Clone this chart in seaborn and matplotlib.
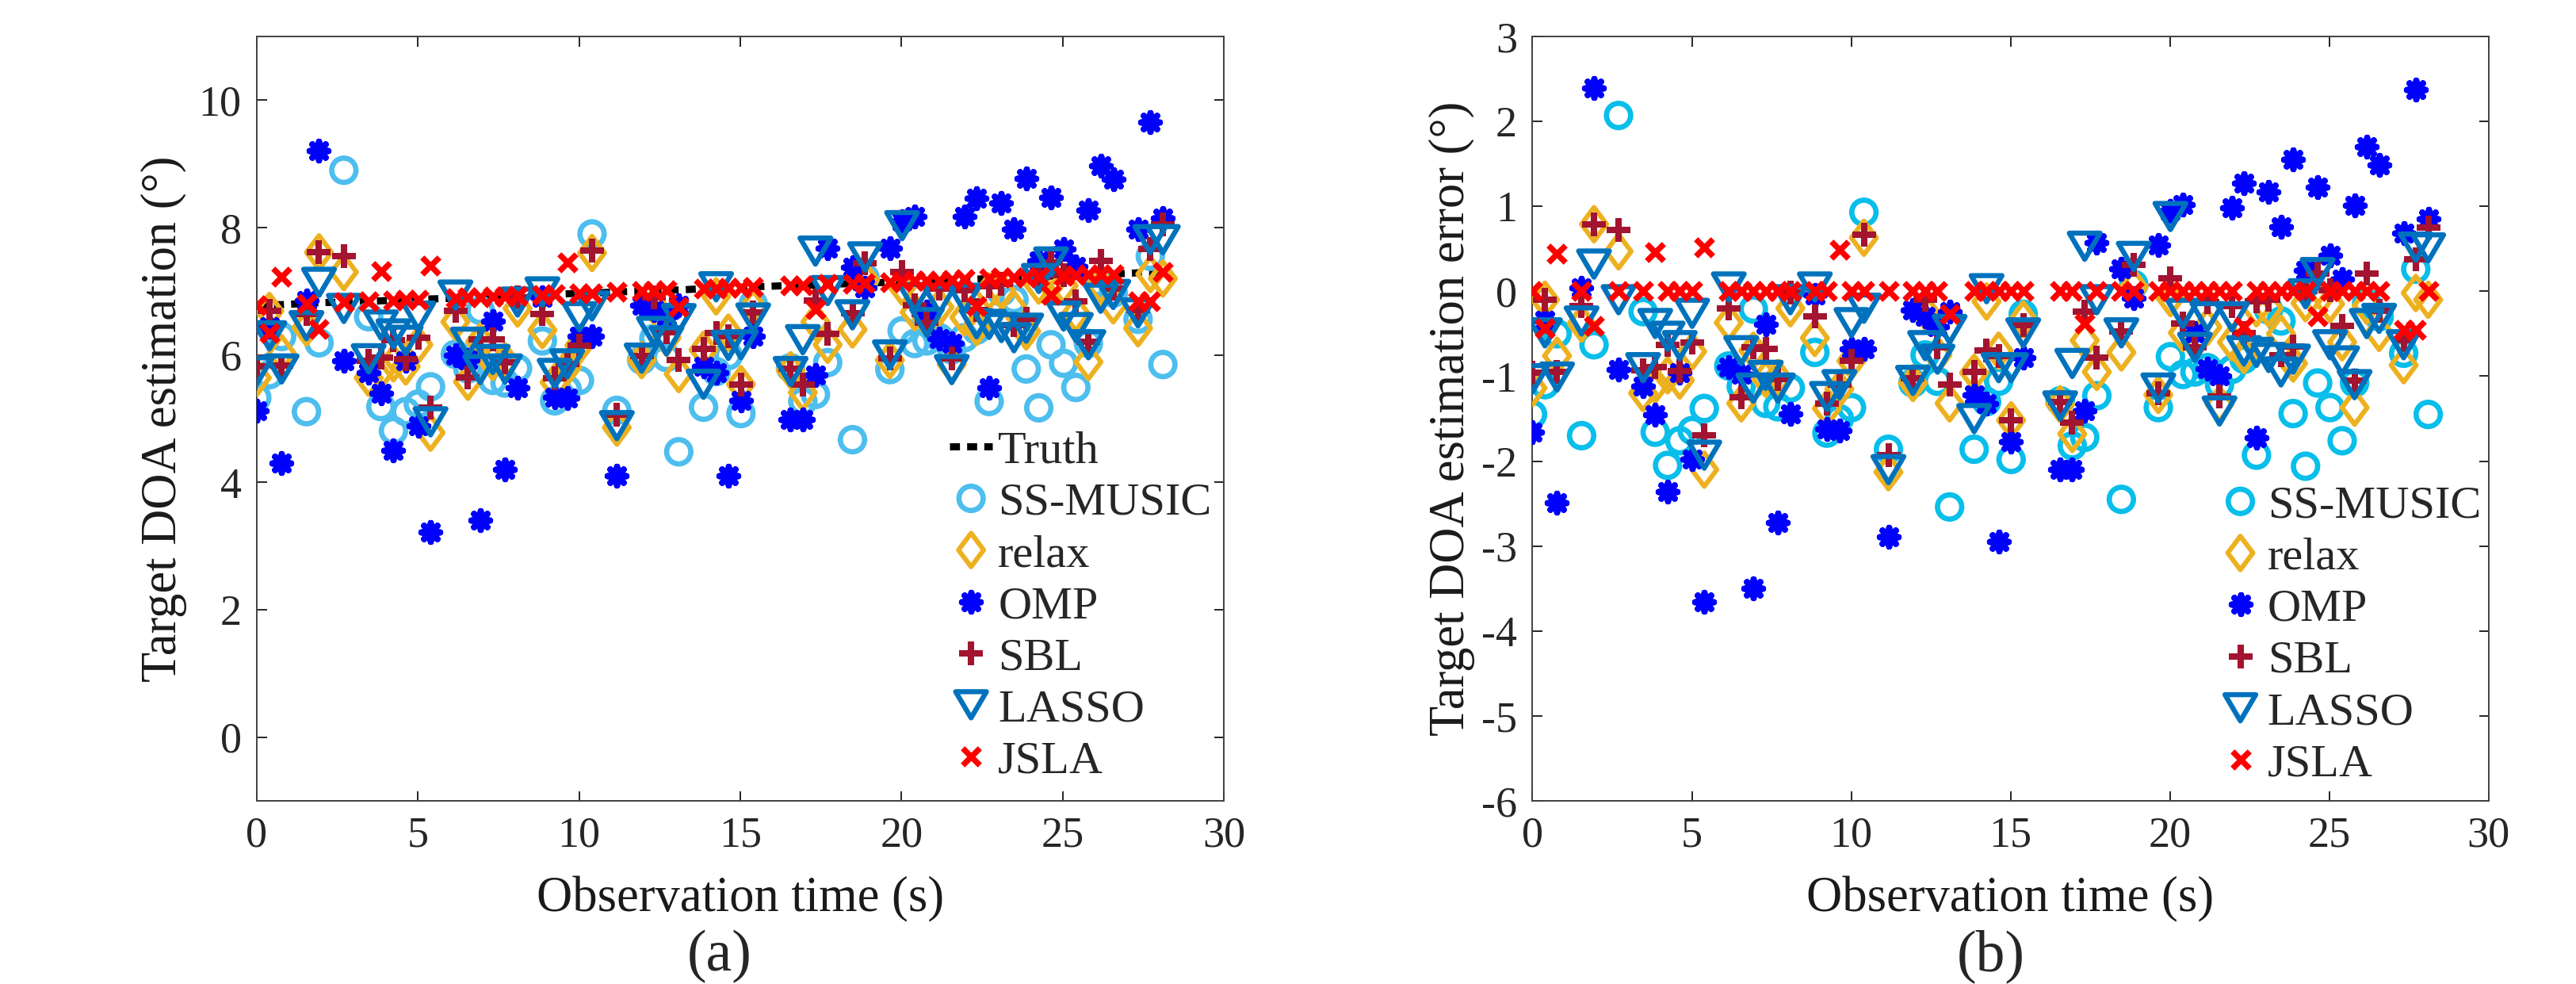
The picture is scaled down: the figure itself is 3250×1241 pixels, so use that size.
import numpy as np
import pandas as pd
import seaborn as sns
import matplotlib.pyplot as plt
from matplotlib.path import Path

# observation time of each kept frame (s)
obs_time = [0.00, 0.39, 0.77, 1.54, 1.93, 2.70, 3.47, 3.85, 4.24, 4.62,
            5.01, 5.39, 6.16, 6.55, 6.93, 7.32, 7.70, 8.09, 8.86, 9.24,
            9.63, 10.01, 10.40, 11.17, 11.94, 12.32, 12.71, 13.09, 13.86, 14.25,
            14.63, 15.02, 15.40, 16.56, 16.94, 17.33, 17.71, 18.48, 18.87, 19.64,
            20.02, 20.41, 20.79, 21.18, 21.56, 21.95, 22.33, 22.72, 23.10, 23.49,
            23.87, 24.26, 24.64, 25.03, 25.41, 25.80, 26.18, 26.57, 27.34, 27.72,
            28.11]

# true target DOA (deg)
truth_doa = [6.78, 6.79, 6.79, 6.81, 6.82, 6.83, 6.84, 6.85, 6.86, 6.87,
             6.87, 6.88, 6.89, 6.90, 6.91, 6.92, 6.92, 6.93, 6.94, 6.95,
             6.96, 6.97, 6.97, 6.99, 7.00, 7.01, 7.02, 7.02, 7.04, 7.04,
             7.05, 7.06, 7.07, 7.09, 7.09, 7.10, 7.11, 7.12, 7.13, 7.14,
             7.15, 7.16, 7.17, 7.17, 7.18, 7.19, 7.19, 7.20, 7.21, 7.22,
             7.22, 7.23, 7.24, 7.24, 7.25, 7.26, 7.27, 7.27, 7.29, 7.29,
             7.30]

# estimation error of each method (deg)
err_ss_music = [-1.45, -1.10, -0.50, -1.70, -0.63, 2.07, -0.24, -1.66, -2.05, -1.76,
                -1.64, -1.38, -0.88, -1.12, -0.21, -1.32, -1.36, -1.14, -0.72, -1.67,
                -1.50, -1.37, 0.93, -1.86, -1.08, -0.75, -1.06, -2.54, -1.86, -1.30,
                -1.06, -1.98, -0.27, -1.29, -1.82, -1.72, -1.23, -2.45, 0.08, -1.37,
                -0.77, -0.98, -0.95, -0.90, -1.10, -0.92, -0.80, -1.93, -0.22, -0.35,
                -1.44, -2.06, -1.08, -1.37, -1.76, -1.08, -0.14, -0.30, -0.73, 0.26,
                -1.45]
err_relax = [-1.14, -0.10, -0.76, -0.38, 0.79, 0.47, -1.20, -1.10, -0.99, -1.05,
             -0.71, -2.10, -0.37, -1.32, -0.70, -1.03, -1.02, -0.20, -0.55, -1.38,
             -1.15, -0.82, 0.63, -2.13, -1.08, -0.24, -0.75, -1.32, -0.96, -0.12,
             -0.70, -1.52, -0.33, -1.33, -1.68, -0.58, -0.95, -0.72, 0.05, -1.22,
             -0.08, -0.49, -0.60, -0.42, -1.33, -0.60, -0.75, -0.20, -0.20, -0.50,
             -0.85, -0.14, -0.12, -0.15, -0.60, -1.37, -0.17, -0.49, -0.87, -0.02,
             -0.10]
err_omp = [-1.66, -0.34, -2.49, 0.04, 2.39, -0.92, -1.12, -1.45, -2.36, -0.96,
           -1.98, -3.66, -0.89, -0.98, -3.50, -0.39, -2.72, -1.44, -0.04, -1.62,
           -1.64, -0.68, -0.68, -2.89, -0.22, -0.30, -0.42, -0.24, -1.22, -1.32,
           -2.95, -1.77, -0.78, -2.10, -2.10, -1.41, 0.57, 0.26, -0.08, 0.54,
           0.95, 1.02, -0.49, -0.91, -1.00, 0.98, 1.27, -1.72, 1.17, 0.76,
           1.55, 0.25, 1.23, 0.42, 0.14, 1.01, 1.70, 1.49, 0.68, 2.37,
           0.85]
err_sbl = [-0.96, -0.10, -0.95, -0.17, 0.79, 0.72, -0.93, -0.89, -0.63, -0.94,
           -0.60, -1.70, -0.20, -1.25, -0.66, -0.68, -1.03, -0.02, -0.30, -1.32,
           -1.10, -0.82, 0.67, -1.93, -1.02, -0.10, -0.66, -1.10, -0.95, -0.70,
           -0.76, -1.52, -0.40, -1.30, -1.55, -0.24, -0.78, -0.47, 0.31, -1.20,
           0.15, -0.38, -0.66, -0.13, -1.24, -0.17, -0.49, -0.12, -0.10, -0.75,
           -0.65, 0.00, 0.21, 0.01, -0.41, -1.05, 0.21, -0.23, -0.58, 0.38,
           0.75]
err_lasso = [-1.03, -0.49, -1.01, -0.35, 0.32, -0.10, -0.90, -0.38, -0.53, -0.64,
             -0.26, -1.93, 0.05, -0.70, -1.14, -0.99, -1.14, -0.10, 0.05, -1.24,
             -1.10, -0.37, -0.20, -2.10, -1.05, -0.64, -0.80, -0.45, -1.50, 0.03,
             -0.90, -0.90, -0.49, -1.35, -0.85, 0.53, -0.10, -0.49, 0.41, -1.14,
             0.88, -0.26, -0.66, -0.30, -1.41, -0.30, -0.70, -0.72, -0.78, -0.95,
             -0.80, -0.03, 0.22, -0.63, -0.82, -1.10, -0.38, -0.32, -0.63, 0.52,
             0.51]
err_jsla = [0.00, -0.44, 0.44, 0.00, -0.41, 0.00, 0.00, 0.46, 0.00, 0.00,
            0.00, 0.52, 0.00, 0.00, 0.00, 0.00, 0.00, 0.00, 0.00, 0.00,
            0.49, 0.00, 0.00, 0.00, 0.00, 0.00, 0.00, -0.27, 0.00, 0.00,
            0.00, 0.00, 0.00, 0.00, 0.00, -0.38, 0.00, 0.00, 0.00, 0.00,
            0.00, 0.00, 0.00, 0.00, 0.00, 0.00, -0.42, 0.00, 0.00, 0.00,
            0.00, 0.00, -0.30, 0.00, 0.00, 0.00, 0.00, 0.00, -0.45, -0.45,
            0.00]

method_names = ["SS-MUSIC", "relax", "OMP", "SBL", "LASSO", "JSLA"]
method_errors = [err_ss_music, err_relax, err_omp, err_sbl, err_lasso, err_jsla]


def closed_marker(verts):
    """Closed polygon marker path"""
    verts = verts + [verts[0]]
    codes = [Path.MOVETO] + [Path.LINETO] * (len(verts) - 2) + [Path.CLOSEPOLY]
    return Path(verts, codes)


diamond = closed_marker([(0, 1), (0.75, 0), (0, -1), (-0.75, 0)])
tri_down = closed_marker([(-1, 0.85), (1, 0.85), (0, -0.85)])

# marker, size (pt), edge width (pt), hollow
styles = {
    "SS-MUSIC": ("o", 22, 4.8, True),
    "relax": (diamond, 30.5, 4.4, True),
    "OMP": ((8, 2, 0), 17, 5.6, False),
    "SBL": ("+", 21, 5.8, False),
    "LASSO": (tri_down, 28, 4.6, True),
    "JSLA": ("x", 15.5, 5.3, False),
}
colors = {
    "relax": "#EDB120",
    "OMP": "#0000FF",
    "SBL": "#A2142F",
    "LASSO": "#0072BD",
    "JSLA": "#FF0000",
}

sns.set_theme(style="ticks")
plt.rcParams["font.family"] = ["Liberation Serif", "DejaVu Serif"]
plt.rcParams["axes.unicode_minus"] = False

W, H = 3250, 1241
fig = plt.figure(figsize=(W / 100, H / 100), dpi=100)
ax_a = fig.add_axes([324 / W, (H - 1010) / H, 1220 / W, 964 / H])
ax_b = fig.add_axes([1933.5 / W, (H - 1010) / H, 1206 / W, 964 / H])

truth = np.array(truth_doa)


def draw_panel(ax, ss_color, as_error):
    if not as_error:
        sns.lineplot(x=obs_time, y=truth_doa, ax=ax, color="black", linewidth=6.5,
                     linestyle=(0, (1.4, 1.0)), label="Truth", zorder=1,
                     estimator=None, legend=False)
    for i, (name, err) in enumerate(zip(method_names, method_errors)):
        marker, size, lw, hollow = styles[name]
        color = ss_color if name == "SS-MUSIC" else colors[name]
        yvals = np.array(err) if as_error else truth + np.array(err)
        kws = dict(marker=marker, s=size ** 2, linewidth=lw, color=color,
                   label=name, zorder=2 + i, legend=False, ax=ax)
        if hollow:
            kws.update(facecolor="none", edgecolor=color)
        sns.scatterplot(x=obs_time, y=yvals, **kws)


draw_panel(ax_a, "#4DBEEE", as_error=False)
draw_panel(ax_b, "#08BEEA", as_error=True)

for ax in (ax_a, ax_b):
    ax.set_xlim(0, 30)
    ax.set_xticks(range(0, 31, 5))
    ax.tick_params(direction="in", length=9, width=1.4, top=True, right=True,
                   labelsize=39, pad=14, colors="#262626")
    for sp in ax.spines.values():
        sp.set_visible(True)
        sp.set_color("#404040")
        sp.set_linewidth(1.4)
    ax.set_xlabel("Observation time (s)", fontsize=45, color="#1a1a1a")
    ax.xaxis.label.set_va("baseline")
    ax.xaxis.set_label_coords(0.5, -0.1442)

ax_a.set_ylim(-1, 11)
ax_a.set_yticks(range(0, 11, 2))
ax_a.set_ylabel("Target DOA estimation (°)", fontsize=45, color="#1a1a1a")
ax_a.yaxis.label.set_va("center")
ax_a.yaxis.set_label_coords(-0.096, 0.5)

ax_b.set_ylim(-6, 3)
ax_b.set_yticks(range(-6, 4))
ax_b.set_ylabel("Target DOA estimation error (°)", fontsize=45, color="#1a1a1a")
ax_b.yaxis.label.set_va("center")
ax_b.yaxis.set_label_coords(-0.0845, 0.5)

leg_kws = dict(loc="upper left", frameon=False, fontsize=42, borderpad=0,
               borderaxespad=0, handlelength=0.93, handletextpad=0.12,
               labelspacing=0.21, scatterpoints=1, scatteryoffsets=[0.5])
h, l = ax_a.get_legend_handles_labels()
ax_a.legend(h, l, bbox_to_anchor=(0.7164, 0.4844), **leg_kws)
h, l = ax_b.get_legend_handles_labels()
ax_b.legend(h, l, bbox_to_anchor=(0.718, 0.413), **leg_kws)

fig.text(908 / W, 1 - 1206 / H, "(a)", fontsize=53, ha="center", va="center")
fig.text(2512 / W, 1 - 1206 / H, "(b)", fontsize=53, ha="center", va="center")

fig.savefig("out.png", dpi=100, facecolor="white")
